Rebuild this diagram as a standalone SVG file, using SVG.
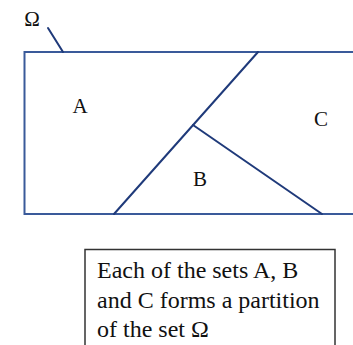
<svg xmlns="http://www.w3.org/2000/svg" width="353" height="345" viewBox="0 0 353 345">
<style>
.lbl{font-family:"Liberation Serif","Times New Roman",serif;font-size:21px;fill:#111;}
.txt{font-family:"Liberation Serif","Times New Roman",serif;font-size:24px;fill:#111;}
.edge{stroke:#1F3A7A;stroke-width:2;fill:none;stroke-linecap:round;}
</style>
<rect width="353" height="345" fill="#fff"/>
<g id="omega">
<text class="lbl" x="32" y="26" text-anchor="middle">Ω</text>
</g>
<g id="universe">
<rect x="24.5" y="52" width="340" height="162" fill="none" stroke="#3A5A9A" stroke-width="2"/>
</g>
<g id="connectors">
<line class="edge" x1="48" y1="28" x2="63" y2="52"/>
<line class="edge" x1="258" y1="52" x2="114" y2="214"/>
<line class="edge" x1="193" y1="125" x2="322" y2="214"/>
</g>
<g id="setA"><text class="lbl" x="80" y="113" text-anchor="middle">A</text></g>
<g id="setB"><text class="lbl" x="200" y="186" text-anchor="middle">B</text></g>
<g id="setC"><text class="lbl" x="321" y="126" text-anchor="middle">C</text></g>
<g id="note">
<rect x="85" y="249.5" width="250" height="110" fill="#fff" stroke="#333" stroke-width="1.5"/>
<text class="txt" x="97" y="278">Each of the sets A, B</text>
<text class="txt" x="97" y="308">and C forms a partition</text>
<text class="txt" x="97" y="337">of the set Ω</text>
</g>
</svg>
